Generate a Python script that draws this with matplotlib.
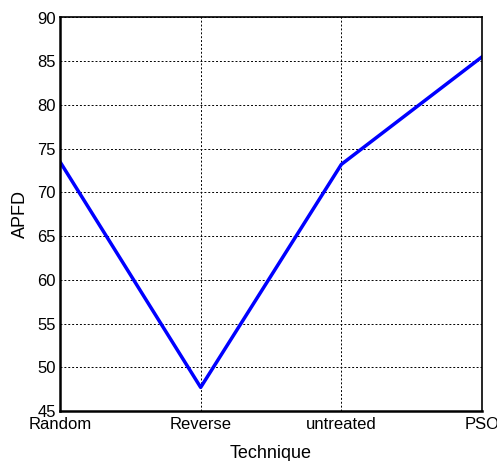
import matplotlib
matplotlib.use("Agg")
import matplotlib.pyplot as plt

# data
techniques = ['Random', 'Reverse', 'untreated', 'PSO']
apfd = [73.5, 47.7, 73.2, 85.5]

plt.rcParams['font.family'] = ['Liberation Sans', 'DejaVu Sans']

fig = plt.figure(figsize=(4.97, 4.61), dpi=100)
ax = fig.add_axes([60 / 497, 50 / 461, 422 / 497, 393.5 / 461])

ax.plot(range(len(techniques)), apfd, color='blue', linewidth=2.5)

ax.set_xlim(0, len(techniques) - 1)
ax.set_ylim(45, 90)
ax.set_xticks(range(len(techniques)))
ax.set_xticklabels(techniques)
ax.set_yticks(range(45, 91, 5))

ax.grid(True, color='black', linestyle=(0, (2, 2)), linewidth=0.7)
ax.tick_params(length=0, labelsize=12, pad=3)
ax.tick_params(axis='x', pad=4)
for s in ax.spines.values():
    s.set_linewidth(1.2)
ax.spines['bottom'].set_linewidth(1.8)
ax.spines['left'].set_linewidth(1.8)

ax.set_xlabel('Technique', fontsize=13, labelpad=10)
ax.set_ylabel('APFD', fontsize=13, labelpad=6)

fig.savefig('out.png', dpi=100)
